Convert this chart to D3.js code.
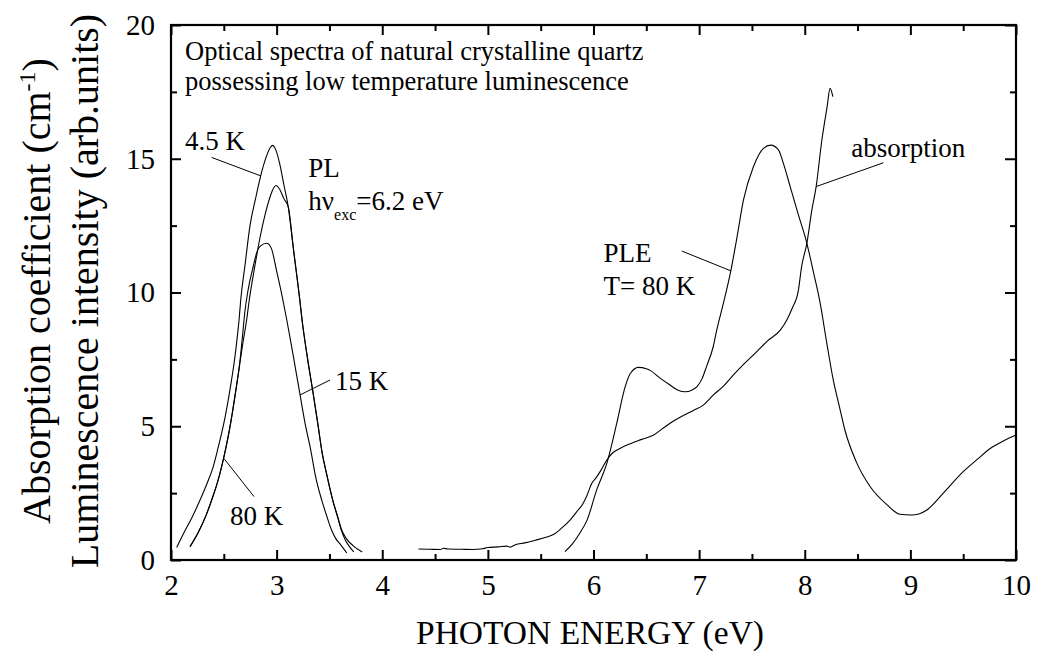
<!DOCTYPE html>
<html>
<head>
<meta charset="utf-8">
<script src="https://cdn.jsdelivr.net/npm/d3@7"></script>
</head>
<body style="margin:0;padding:0;background:#fff">
<svg id="chart" width="1040" height="666" style="display:block"></svg>
<script>
// ---------------- data ----------------
const xMajorTicks = [2, 3, 4, 5, 6, 7, 8, 9, 10];
const xMinorTicks = [2.5, 3.5, 4.5, 5.5, 6.5, 7.5, 8.5, 9.5];
const yMajorTicks = [0, 5, 10, 15, 20];
const yMinorTicks = [2.5, 7.5, 12.5, 17.5];

// PL spectrum, 4.5 K  [energy eV, intensity]
const pl45K = [
  [2.054,0.47],[2.12,1.0],[2.20,1.6],[2.275,2.24],[2.34,2.85],[2.40,3.49],[2.44,4.1],[2.48,4.75],
  [2.515,5.4],[2.545,6.05],[2.57,6.65],[2.595,7.3],[2.615,7.9],[2.632,8.5],[2.645,9.0],[2.66,9.72],
  [2.70,11.0],[2.748,12.5],[2.80,13.5],[2.849,14.36],[2.90,15.05],[2.94,15.42],[2.963,15.5],
  [2.99,15.35],[3.03,14.8],[3.07,14.0],[3.11,13.2],[3.16,11.6],[3.22,9.7],[3.24,9.0],[3.29,7.6],
  [3.348,6.17],[3.39,5.1],[3.427,4.1],[3.48,3.1],[3.531,2.24],[3.58,1.6],[3.616,1.12],[3.66,0.8],
  [3.72,0.55],[3.81,0.3]
];
// PL spectrum, 15 K
const pl15K = [
  [2.18,0.5],[2.26,1.05],[2.33,1.65],[2.39,2.3],[2.44,2.9],[2.48,3.5],[2.52,4.2],[2.555,4.9],
  [2.585,5.6],[2.62,6.5],[2.647,7.23],[2.68,8.1],[2.717,9.0],[2.741,9.72],[2.79,10.9],[2.84,12.0],
  [2.89,12.9],[2.94,13.6],[2.97,13.9],[2.994,14.0],[3.03,13.85],[3.07,13.5],[3.11,13.2],[3.16,11.6],
  [3.22,9.7],[3.24,9.0],[3.29,7.6],[3.348,6.17],[3.39,5.1],[3.427,4.1],[3.48,3.1],[3.531,2.24],
  [3.57,1.7],[3.61,1.15],[3.65,0.75],[3.69,0.5],[3.73,0.3]
];
// PL spectrum, 80 K
const pl80K = [
  [2.18,0.5],[2.26,1.05],[2.33,1.65],[2.39,2.3],[2.44,2.9],[2.48,3.5],[2.52,4.2],[2.555,4.9],
  [2.585,5.6],[2.62,6.5],[2.647,7.23],[2.675,8.3],[2.70,9.3],[2.73,10.1],[2.78,11.0],[2.81,11.47],
  [2.85,11.75],[2.906,11.84],[2.95,11.65],[3.00,10.8],[3.05,9.9],[3.095,9.0],[3.15,7.8],[3.222,6.17],
  [3.27,5.1],[3.323,4.11],[3.37,3.1],[3.427,2.24],[3.47,1.7],[3.52,1.12],[3.56,0.8],[3.60,0.6],
  [3.664,0.26]
];
// PLE spectrum, T = 80 K
const ple80K = [
  [5.73,0.31],[5.80,0.6],[5.87,1.0],[5.94,1.5],[6.03,2.62],[6.126,3.61],[6.22,5.11],[6.30,6.48],
  [6.35,6.98],[6.425,7.2],[6.50,7.15],[6.54,7.08],[6.63,6.8],[6.725,6.54],[6.80,6.35],[6.867,6.29],
  [6.93,6.35],[6.98,6.48],[7.03,6.8],[7.07,7.23],[7.135,8.0],[7.167,8.6],[7.23,9.6],[7.30,10.81],
  [7.36,12.1],[7.42,13.46],[7.514,14.7],[7.609,15.39],[7.679,15.51],[7.751,15.33],[7.80,14.8],
  [7.862,13.96],[7.94,12.9],[8.02,11.84],[8.08,10.8],[8.146,9.6],[8.209,8.1],[8.27,6.73],[8.33,5.7],
  [8.38,4.86],[8.49,3.65],[8.62,2.74],[8.78,2.06],[8.90,1.71],[9.01,1.68],[9.08,1.72],[9.156,1.87],
  [9.31,2.49],[9.50,3.30],[9.63,3.75],[9.756,4.17],[9.88,4.45],[10.0,4.67]
];
// Absorption coefficient
const absorption = [
  [4.343,0.41],[4.45,0.40],[4.55,0.39],[4.58,0.44],[4.62,0.41],[4.75,0.40],[4.85,0.39],[4.95,0.42],
  [5.00,0.47],[5.10,0.49],[5.18,0.52],[5.21,0.48],[5.26,0.57],[5.35,0.64],[5.45,0.74],[5.55,0.85],
  [5.62,0.95],[5.70,1.2],[5.78,1.5],[5.84,1.8],[5.90,2.1],[5.94,2.43],[5.984,2.87],[6.02,3.05],
  [6.07,3.35],[6.126,3.74],[6.18,4.0],[6.25,4.17],[6.35,4.35],[6.45,4.5],[6.57,4.67],[6.65,4.9],
  [6.725,5.11],[6.85,5.4],[6.95,5.6],[7.04,5.79],[7.135,6.17],[7.23,6.5],[7.325,6.92],[7.43,7.35],
  [7.546,7.79],[7.65,8.2],[7.77,8.6],[7.83,8.97],[7.88,9.4],[7.94,10.09],[7.97,10.96],[8.02,11.84],
  [8.067,13.08],[8.108,13.96],[8.162,15.7],[8.21,16.9],[8.24,17.63],[8.266,17.32]
];
const seriesList = [pl45K, pl15K, pl80K, ple80K, absorption];

// annotation leader lines  [[E1,v1],[E2,v2]]
const leaders = [
  [[2.385,15.05],[2.849,14.36]],   // 4.5 K
  [[3.506,6.73],[3.222,6.17]],     // 15 K
  [[2.786,2.37],[2.50,3.8]],       // 80 K
  [[6.836,11.55],[7.30,10.81]],    // PLE
  [[8.745,14.85],[8.108,13.96]]    // absorption
];
// simple labels  [text, E, v]
const labels = [
  ["4.5 K", 2.133, 15.33],
  ["PL", 3.30, 14.33],
  ["15 K", 3.553, 6.36],
  ["80 K", 2.559, 1.31],
  ["PLE", 6.094, 11.13],
  ["T= 80 K", 6.094, 9.91],
  ["absorption", 8.44, 15.08]
];
const titleLines = ["Optical spectra of natural crystalline quartz",
                    "possessing low temperature luminescence"];
const titlePos = [2.133, 18.69, 17.57];
const xTitle = "PHOTON ENERGY (eV)";

// ---------------- drawing ----------------
const FONT = '"Liberation Serif"';
const svg = d3.select("#chart").style("font-family", FONT);
const x = d3.scaleLinear().domain([2, 10]).range([171, 1016]);
const y = d3.scaleLinear().domain([0, 20]).range([560, 25]);

const line = d3.line().x(d => x(d[0])).y(d => y(d[1])).curve(d3.curveMonotoneX);

// series
svg.append("g").selectAll("path").data(seriesList).join("path")
  .attr("d", line).attr("fill", "none").attr("stroke", "#000").attr("stroke-width", 1.1);

// leaders
svg.append("g").selectAll("line").data(leaders).join("line")
  .attr("x1", d => x(d[0][0])).attr("y1", d => y(d[0][1]))
  .attr("x2", d => x(d[1][0])).attr("y2", d => y(d[1][1]))
  .attr("stroke", "#000").attr("stroke-width", 1);

// axes
function styleAxis(g) {
  g.attr("font-family", null).attr("font-size", null);
  g.select(".domain").remove();
  g.selectAll(".tick line").attr("stroke", "#000").attr("stroke-width", 2);
  g.selectAll(".tick text").attr("fill", "#000")
    .style("font-family", FONT).style("font-size", "29px");
}
svg.append("g").attr("transform", "translate(0,560)")
  .call(d3.axisBottom(x).tickValues(xMajorTicks).tickSize(-10).tickPadding(14).tickFormat(d3.format("d")))
  .call(styleAxis);
svg.append("g").attr("transform", "translate(0,560)")
  .call(d3.axisBottom(x).tickValues(xMinorTicks).tickSize(-6).tickFormat(""))
  .call(styleAxis);
svg.append("g").attr("transform", "translate(0,25)")
  .call(d3.axisTop(x).tickValues(xMajorTicks).tickSize(-10).tickFormat(""))
  .call(styleAxis);
svg.append("g").attr("transform", "translate(0,25)")
  .call(d3.axisTop(x).tickValues(xMinorTicks).tickSize(-6).tickFormat(""))
  .call(styleAxis);
svg.append("g").attr("transform", "translate(171,0)")
  .call(d3.axisLeft(y).tickValues(yMajorTicks).tickSize(-10).tickPadding(16).tickFormat(d3.format("d")))
  .call(styleAxis);
svg.append("g").attr("transform", "translate(171,0)")
  .call(d3.axisLeft(y).tickValues(yMinorTicks).tickSize(-6).tickFormat(""))
  .call(styleAxis);
svg.append("g").attr("transform", "translate(1016,0)")
  .call(d3.axisRight(y).tickValues(yMajorTicks).tickSize(-11).tickFormat(""))
  .call(styleAxis);
svg.append("g").attr("transform", "translate(1016,0)")
  .call(d3.axisRight(y).tickValues(yMinorTicks).tickSize(-6).tickFormat(""))
  .call(styleAxis);

// frame
svg.append("rect").attr("x", x(2)).attr("y", y(20))
  .attr("width", x(10) - x(2)).attr("height", y(0) - y(20))
  .attr("fill", "none").attr("stroke", "#000").attr("stroke-width", 2.2);

// labels
svg.append("g").selectAll("text").data(labels).join("text")
  .attr("x", d => x(d[1])).attr("y", d => y(d[2]))
  .style("font-family", FONT).style("font-size", "27px").text(d => d[0]);

// h nu_exc = 6.2 eV
const hv = svg.append("text").attr("x", x(3.30)).attr("y", y(13.08))
  .style("font-family", FONT).style("font-size", "27px");
hv.append("tspan").text("hν");
hv.append("tspan").attr("dy", 10).style("font-size", "16px").text("exc");
hv.append("tspan").attr("dy", -10).text("=6.2 eV");

// title
svg.append("g").selectAll("text").data(titleLines).join("text")
  .attr("x", x(titlePos[0])).attr("y", (d, i) => y(titlePos[1 + i]))
  .style("font-family", FONT).style("font-size", "26.5px").text(d => d);

// x axis title
svg.append("text").attr("x", 590).attr("y", 644).attr("text-anchor", "middle")
  .style("font-family", FONT).style("font-size", "33.5px").text(xTitle);

// y axis titles
const yt1 = svg.append("text").attr("transform", "translate(50,291) rotate(-90)")
  .attr("text-anchor", "middle").style("font-family", FONT).style("font-size", "40px");
yt1.append("tspan").text("Absorption  coefficient (cm");
yt1.append("tspan").attr("dy", -15).style("font-size", "24px").text("-1");
yt1.append("tspan").attr("dy", 15).text(")");
svg.append("text").attr("transform", "translate(98,291) rotate(-90)")
  .attr("text-anchor", "middle").style("font-family", FONT).style("font-size", "40px")
  .text("Luminescence intensity (arb.units)");
</script>
</body>
</html>
